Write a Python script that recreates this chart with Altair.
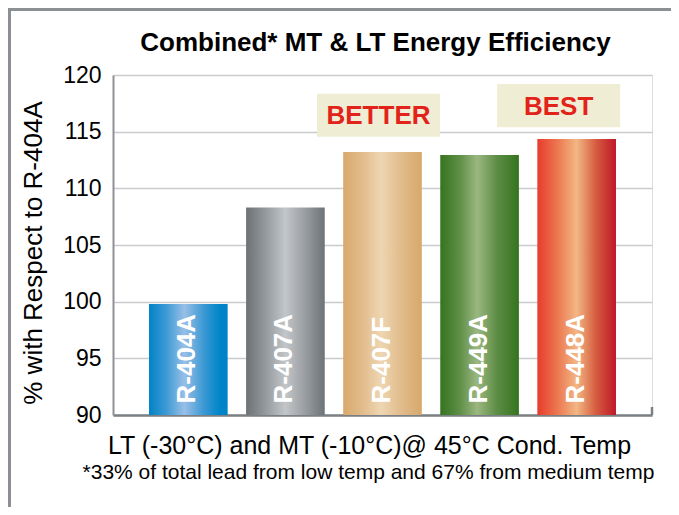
import altair as alt
import pandas as pd

# ---- data ----
categories = ["R-404A", "R-407A", "R-407F", "R-449A", "R-448A"]
values = [99.8, 108.3, 113.2, 112.95, 114.35]

annot_cats = ["R-407F", "R-448A"]
annot_labels = ["BETTER", "BEST"]
annot_low = [114.55, 115.4]
annot_high = [118.35, 119.2]

y_ticks = [90, 95, 100, 105, 110, 115, 120]

title_text = "Combined* MT & LT Energy Efficiency"
y_title = "% with Respect to R-404A"
x_title = "LT (-30°C) and MT (-10°C)@ 45°C Cond. Temp"
footnote = "*33% of total lead from low temp and 67% from medium temp"

# ---- styles ----
W, H = 539, 340
PAD_L, PAD_T, PAD_R, PAD_B = 105, 67, 19, 92
FONT = "Liberation Sans"

bar_stops = {
    "R-404A": [("#0082c6", 0), ("#3d9ad4", 0.22), ("#98bfe7", 0.45), ("#3a98d3", 0.7), ("#0085c8", 0.9), ("#0082c6", 1)],
    "R-407A": [("#6c7176", 0), ("#959a9e", 0.25), ("#c2c6c9", 0.5), ("#9a9ea2", 0.75), ("#6d7277", 1)],
    "R-407F": [("#d8a96c", 0), ("#e2bc8c", 0.25), ("#eed6b2", 0.48), ("#e2bd8e", 0.72), ("#d7a86b", 1)],
    "R-449A": [("#35741f", 0), ("#5f8f47", 0.25), ("#9bb781", 0.47), ("#5d8d45", 0.72), ("#35741f", 1)],
    "R-448A": [("#e73b2c", 0), ("#ec7650", 0.25), ("#f2b783", 0.5), ("#d55a3f", 0.75), ("#be1829", 1)],
}
annot_dx = {"BETTER": -4, "BEST": -18}

df = pd.DataFrame({"cat": categories, "val": values})
adf = pd.DataFrame({"cat": annot_cats, "label": annot_labels, "lo": annot_low, "hi": annot_high})

X = alt.X(
    "cat:N",
    sort=categories,
    scale=alt.Scale(domain=categories, paddingInner=0.19, paddingOuter=0.371),
    axis=alt.Axis(
        title=x_title, labels=False, ticks=False, grid=False,
        domainColor="#7b8085", domainWidth=2.5,
        titleFont=FONT, titleFontSize=25, titleFontWeight="normal", titleColor="#000000",
        titleX=256, titleY=38.5, titleAlign="center", titleBaseline="alphabetic",
    ),
)
y_scale = alt.Scale(domain=[90, 120], nice=False, zero=False)
Y = alt.Y(
    "val:Q",
    scale=y_scale,
    axis=alt.Axis(
        title=y_title, values=y_ticks, ticks=False, tickSize=0, labelPadding=12,
        labelFont=FONT, labelFontSize=23, labelColor="#000000",
        domainColor="#8e9296", domainWidth=2,
        gridColor="#c9cbce", gridWidth=1.6,
        titleFont=FONT, titleFontSize=26, titleFontWeight="normal", titleColor="#000000",
        titleX=-80, titleY=177.5, titleAngle=270, titleAlign="center", titleBaseline="middle",
    ),
)

layers = []
for c in categories:
    grad = alt.LinearGradient(
        gradient="linear",
        stops=[alt.GradientStop(color=col, offset=off) for col, off in bar_stops[c]],
        x1=0, x2=1, y1=0, y2=0,
    )
    layers.append(
        alt.Chart(df).transform_filter(alt.datum.cat == c)
        .mark_bar(color=grad)
        .encode(x=X, y=Y, y2=alt.datum(90))
    )

labels = alt.Chart(df).mark_text(
    angle=270, align="left", baseline="middle", dx=11.5, dy=-1,
    font=FONT, fontSize=26, fontWeight="bold", color="#ffffff",
).encode(x=X, y=alt.datum(90), text="cat:N")
layers.append(labels)

for lab in annot_labels:
    sub = alt.Chart(adf).transform_filter(alt.datum.label == lab)
    layers.append(
        sub.mark_bar(width=123, color="#efedd4", xOffset=annot_dx[lab])
        .encode(x=X, y=alt.Y("lo:Q", scale=y_scale), y2="hi:Q")
    )
    layers.append(
        sub.transform_calculate(mid="(datum.lo + datum.hi) / 2")
        .mark_text(font=FONT, fontSize=26, fontWeight="bold", color="#e2231a",
                   baseline="middle", align="center", dx=annot_dx[lab], dy=1)
        .encode(x=X, y=alt.Y("mid:Q", scale=y_scale), text="label:N")
    )

title_mark = alt.Chart(pd.DataFrame({"t": [title_text]})).mark_text(
    font=FONT, fontSize=26, fontWeight="bold", color="#000000", align="center", baseline="alphabetic"
).encode(x=alt.value(262.5), y=alt.value(-24), text="t:N")
layers.append(title_mark)

foot = alt.Chart(pd.DataFrame({"t": [footnote]})).mark_text(
    font=FONT, fontSize=21, color="#000000", align="center", baseline="alphabetic"
).encode(x=alt.value(255.5), y=alt.value(63.5 + 0), text="t:N")
# footnote baseline sits ~63px below the plot bottom
foot = foot.encode(y=alt.value(H + 63.5))
layers.append(foot)

end_tick = alt.Chart(df.head(1)).mark_rule(color="#7b8085", strokeWidth=2.5).encode(
    x=alt.value(W), y=alt.value(H - 8), y2=alt.value(H)
)
layers.append(end_tick)

frame_left = alt.Chart(df.head(1)).mark_rule(color="#8c9094", strokeWidth=3).encode(
    x=alt.value(-PAD_L + 1.5), y=alt.value(-PAD_T), y2=alt.value(H + PAD_B)
)
frame_top = alt.Chart(df.head(1)).mark_rule(color="#8c9094", strokeWidth=3).encode(
    x=alt.value(-PAD_L), x2=alt.value(W + PAD_R), y=alt.value(-PAD_T + 1.5)
)
layers += [frame_left, frame_top]

chart = alt.layer(*layers).properties(
    width=W, height=H,
    autosize=alt.AutoSizeParams(type="none"),
    padding={"left": PAD_L, "top": PAD_T, "right": PAD_R, "bottom": PAD_B},
).configure_view(stroke=None).configure(background="#ffffff")

chart.save("out.html", embed_options={"renderer": "svg", "actions": False})
